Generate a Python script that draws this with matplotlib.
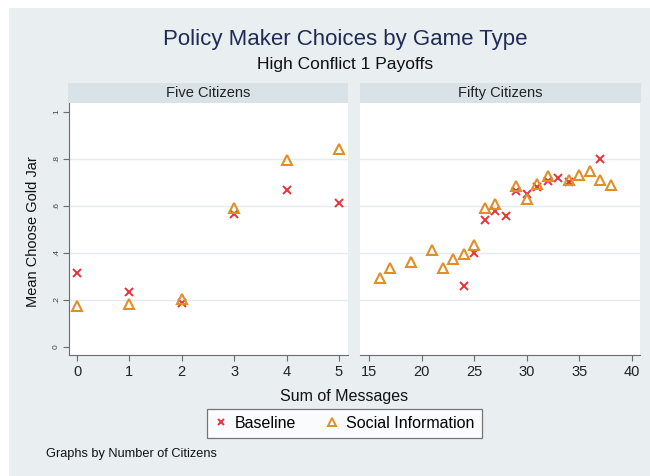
import matplotlib
matplotlib.use("Agg")
import matplotlib.pyplot as plt
from matplotlib.patches import Rectangle
from matplotlib.lines import Line2D

plt.rcParams['font.family'] = ['Liberation Sans', 'DejaVu Sans']

# Five citizens panel
five_msgs = [0, 1, 2, 3, 4, 5]
five_base = [0.315, 0.234, 0.187, 0.565, 0.667, 0.613]
five_social = [0.174, 0.184, 0.206, 0.593, 0.794, 0.841]

# Fifty citizens panel
fifty_base_msgs = [24, 25, 26, 27, 28, 29, 30, 31, 32, 33, 34, 37]
fifty_base = [0.260, 0.400, 0.540, 0.580, 0.559, 0.662, 0.652, 0.681,
              0.705, 0.721, 0.702, 0.801]
fifty_social_msgs = [16, 17, 19, 21, 22, 23, 24, 25, 26, 27, 29, 30, 31,
                     32, 34, 35, 36, 37, 38]
fifty_social = [0.295, 0.336, 0.362, 0.414, 0.336, 0.374, 0.396, 0.434,
                0.591, 0.610, 0.685, 0.630, 0.692, 0.728, 0.711, 0.730,
                0.750, 0.711, 0.689]

panel_titles = ["Five Citizens", "Fifty Citizens"]
y_ticks = [0, 0.2, 0.4, 0.6, 0.8, 1]
y_ticklabels = ["0", ".2", ".4", ".6", ".8", "1"]

RED = "#e8313a"
ORANGE = "#e08f27"
BG = "#e9eef1"
STRIP = "#d8e2e7"
GRID = "#e4eaed"
AXC = "#6b6b6b"

W, H = 650, 476
fig = plt.figure(figsize=(W / 100, H / 100), dpi=100)
fig.patch.set_facecolor("white")
fig.add_artist(Rectangle((9 / W, 0), 1 - 9 / W, 1 - 8 / H,
                         transform=fig.transFigure, facecolor=BG,
                         edgecolor="none", zorder=-10))


def px_box(x0, y0, x1, y1):
    return [x0 / W, 1 - y1 / H, (x1 - x0) / W, (y1 - y0) / H]


ax1 = fig.add_axes(px_box(69, 103, 348, 355))
ax2 = fig.add_axes(px_box(360, 103, 640, 355))
s1 = fig.add_axes(px_box(68, 83, 348, 103))
s2 = fig.add_axes(px_box(360, 83, 641, 103))

for s, t in zip([s1, s2], panel_titles):
    s.set_facecolor(STRIP)
    s.set_xticks([])
    s.set_yticks([])
    for sp in s.spines.values():
        sp.set_visible(False)
    s.text(0.5, 0.5, t, ha="center", va="center", fontsize=10.5,
           color="#222222", transform=s.transAxes)

series = [
    (ax1, five_msgs, five_base, five_msgs, five_social),
    (ax2, fifty_base_msgs, fifty_base, fifty_social_msgs, fifty_social),
]
for ax, bx, by, sx, sy in series:
    ax.set_facecolor("white")
    ax.set_ylim(-0.034, 1.038)
    ax.set_yticks(y_ticks)
    for g in [0.2, 0.4, 0.6, 0.8]:
        ax.axhline(g, color=GRID, lw=1.0, zorder=0)
    ax.plot(bx, by, ls="none", marker="x", ms=5.5, mew=1.4, color=RED,
            zorder=3)
    ax.plot(sx, sy, ls="none", marker="^", ms=6.5, mew=1.5, mfc="none",
            mec=ORANGE, zorder=4)
    for side in ["top", "right"]:
        ax.spines[side].set_visible(False)
    ax.spines["bottom"].set_color(AXC)
    ax.tick_params(axis="x", colors=AXC, labelcolor="#222222",
                   labelsize=10.5, length=4, width=0.8, pad=3)

ax1.set_xlim(-0.153, 5.172)
ax1.set_xticks(five_msgs)
ax1.set_yticklabels(y_ticklabels, rotation=90, va="center")
ax1.spines["left"].set_color(AXC)
ax1.tick_params(axis="y", colors=AXC, labelcolor="#444444", labelsize=6,
                length=4.5, width=0.8, pad=2)

ax2.set_xlim(14.145, 40.76)
ax2.set_xticks([15, 20, 25, 30, 35, 40])
ax2.spines["left"].set_visible(False)
ax2.tick_params(axis="y", left=False, labelleft=False)

fig.text(345 / W, 1 - 39 / H, "Policy Maker Choices by Game Type",
         ha="center", va="center", fontsize=16, color="#1e2b55")
fig.text(345 / W, 1 - 64 / H, "High Conflict 1 Payoffs",
         ha="center", va="center", fontsize=12.5, color="#111111")
fig.text(33 / W, 1 - 232 / H, "Mean Choose Gold Jar", rotation=90,
         ha="center", va="center", fontsize=10.5, color="#111111")
fig.text(344 / W, 1 - 396 / H, "Sum of Messages",
         ha="center", va="center", fontsize=11.5, color="#111111")
fig.text(46 / W, 1 - 454 / H, "Graphs by Number of Citizens",
         ha="left", va="center", fontsize=9.2, color="#111111")

handles = [
    Line2D([], [], ls="none", marker="x", ms=5, mew=1.4, color=RED),
    Line2D([], [], ls="none", marker="^", ms=6, mew=1.4, mfc="none",
           mec=ORANGE),
]
leg = fig.legend(handles, ["Baseline", "Social Information"], ncol=2,
                 loc="center", bbox_to_anchor=(344.5 / W, 1 - 423.5 / H),
                 fontsize=11.5, frameon=True, fancybox=False,
                 handlelength=0.8, handletextpad=0.5, columnspacing=1.8,
                 borderpad=0.45)
leg.get_frame().set_edgecolor("#555555")
leg.get_frame().set_linewidth(0.9)

fig.savefig("out.png", dpi=100)
